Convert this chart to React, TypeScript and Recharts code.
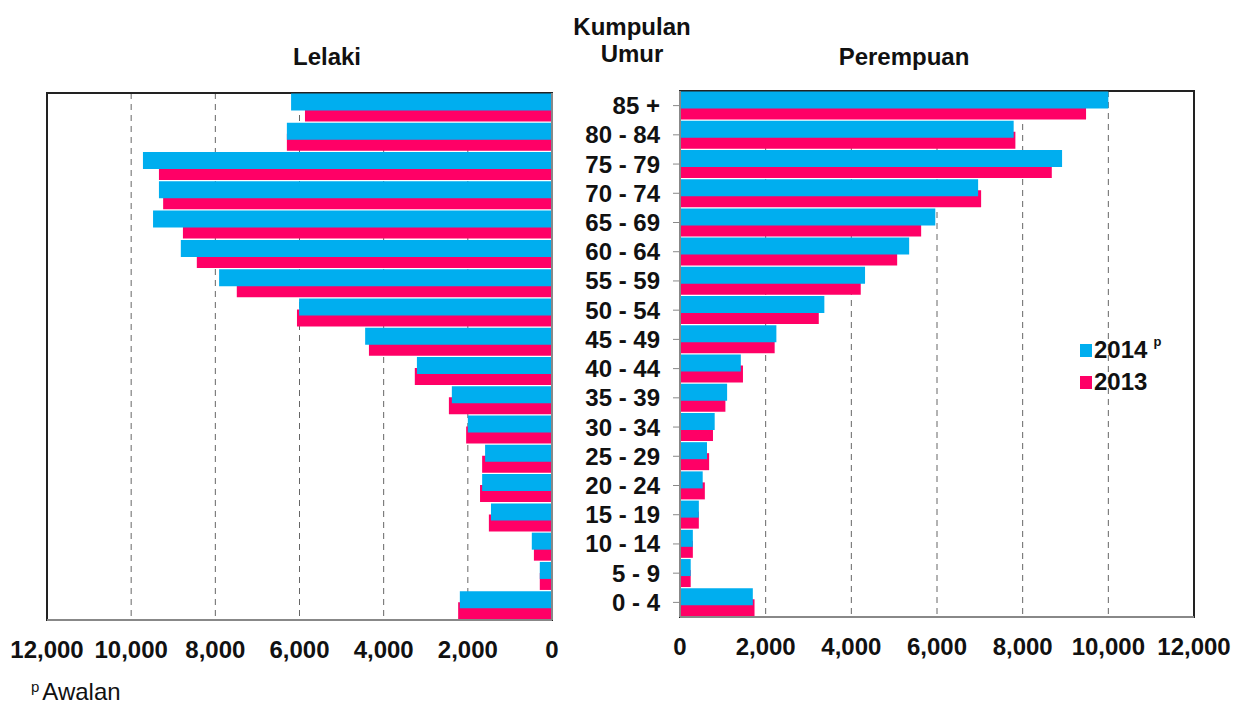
import React from 'react';
import { Bar, BarChart, CartesianGrid, Legend, Rectangle, ReferenceArea, ReferenceLine, XAxis, YAxis } from 'recharts';

const ageGroups = [
  '85 +', '80 - 84', '75 - 79', '70 - 74', '65 - 69', '60 - 64', '55 - 59', '50 - 54', '45 - 49',
  '40 - 44', '35 - 39', '30 - 34', '25 - 29', '20 - 24', '15 - 19', '10 - 14', '5 - 9', '0 - 4',
];

// Lelaki (male)
const male2014 = [6200, 6300, 9720, 9340, 9480, 8820, 7910, 6010, 4440, 3210, 2380, 2000, 1590, 1660, 1450, 480, 290, 2190];
const male2013 = [5870, 6300, 9340, 9240, 8770, 8440, 7490, 6060, 4350, 3260, 2450, 2040, 1660, 1710, 1500, 430, 290, 2230];

// Perempuan (female)
const female2014 = [10000, 7790, 8920, 6960, 5960, 5350, 4320, 3370, 2250, 1420, 1100, 810, 630, 530, 440, 300, 250, 1700];
const female2013 = [9480, 7830, 8680, 7030, 5630, 5070, 4220, 3240, 2210, 1470, 1060, 770, 680, 580, 440, 300, 250, 1740];

const xTicks = [0, 2000, 4000, 6000, 8000, 10000, 12000];

const BLUE = '#00AEEF';
const PINK = '#FF0066';
const FONT = "'Liberation Sans', Arial, sans-serif";

const legendItems = [
  { label: '2014', sup: 'p', color: BLUE },
  { label: '2013', sup: '', color: PINK },
];

const maleData = ageGroups.map((g, i) => ({ group: g, y2014: male2014[i], y2013: male2013[i] }));
const femaleData = ageGroups.map((g, i) => ({ group: g, y2014: female2014[i], y2013: female2013[i] }));

const fmt = (v: number) => v.toLocaleString('en-US');
const tickStyle = { fontFamily: FONT, fontSize: 24, fontWeight: 'bold', fill: '#111' };

// bars of one group overlap: 2014 sits higher and is painted above 2013
const shifted = (dy: number) => (props: any) => (
  <Rectangle x={props.x} y={props.y + dy} width={props.width} height={props.height} fill={props.fill} />
);

function LegendBox() {
  return (
    <div style={{ fontFamily: FONT, fontWeight: 'bold', fontSize: 24, color: '#111' }}>
      {legendItems.map((it) => (
        <div key={it.label} style={{ display: 'flex', alignItems: 'center', height: 32 }}>
          <span style={{ width: 12, height: 13, background: it.color, marginRight: 2 }} />
          <span style={{ lineHeight: '24px' }}>{it.label}</span>
          {it.sup ? (
            <span style={{ fontSize: 13, alignSelf: 'flex-start', marginLeft: 6 }}>{it.sup}</span>
          ) : null}
        </div>
      ))}
    </div>
  );
}

function Label({ text, x, y }: { text: string; x: number; y: number }) {
  return (
    <div
      style={{
        position: 'absolute', left: x - 100, top: y, width: 200, textAlign: 'center',
        fontFamily: FONT, fontSize: 24, fontWeight: 'bold', lineHeight: '24px', color: '#111',
      }}
    >
      {text}
    </div>
  );
}

export default function App() {
  return (
    <div style={{ position: 'absolute', left: 0, top: 0, width: 1240, height: 706, background: '#fff', overflow: 'hidden' }}>
      <Label text="Kumpulan" x={632} y={15} />
      <Label text="Umur" x={632} y={42} />
      <Label text="Lelaki" x={327} y={45} />
      <Label text="Perempuan" x={904} y={45} />

      <div style={{ position: 'absolute', left: 0, top: 0 }}>
        <BarChart
          width={600}
          height={706}
          data={maleData}
          layout="vertical"
          margin={{ top: 93, right: 38, bottom: 46, left: 47 }}
          barSize={17}
          barGap={-17}
        >
          <CartesianGrid horizontal={false} stroke="#666" strokeDasharray="6 5" />
          <XAxis
            type="number"
            domain={[0, 12000]}
            ticks={xTicks}
            interval={0}
            reversed
            tickFormatter={fmt}
            tick={tickStyle}
            tickLine={false}
            tickMargin={15}
            height={40}
            axisLine={{ stroke: '#888', strokeWidth: 2 }}
          />
          <YAxis
            type="category"
            dataKey="group"
            orientation="right"
            width={10}
            tick={false}
            tickSize={7}
            tickLine={{ stroke: '#888' }}
            axisLine={{ stroke: '#888', strokeWidth: 2 }}
            interval={0}
          />
          <Bar dataKey="y2013" fill={PINK} shape={shifted(5.5)} isAnimationActive={false} />
          <Bar dataKey="y2014" fill={BLUE} shape={shifted(-5.5)} isAnimationActive={false} />
          <ReferenceArea x1={0} x2={12000} fill="none" stroke="#222" strokeWidth={2} ifOverflow="visible" />
          <ReferenceLine x={0} stroke="#888" strokeWidth={2} ifOverflow="visible" />
        </BarChart>
      </div>

      <div style={{ position: 'absolute', left: 560, top: 0 }}>
        <BarChart
          width={680}
          height={706}
          data={femaleData}
          layout="vertical"
          margin={{ top: 91, right: 46, bottom: 49, left: 0 }}
          barSize={17}
          barGap={-17}
        >
          <CartesianGrid horizontal={false} stroke="#666" strokeDasharray="6 5" />
          <XAxis
            type="number"
            domain={[0, 12000]}
            ticks={xTicks}
            interval={0}
            tickFormatter={fmt}
            tick={tickStyle}
            tickLine={false}
            tickMargin={15}
            height={40}
            axisLine={{ stroke: '#888', strokeWidth: 2 }}
          />
          <YAxis
            type="category"
            dataKey="group"
            width={120}
            tick={tickStyle}
            tickSize={7}
            tickMargin={13}
            tickLine={{ stroke: '#888' }}
            axisLine={{ stroke: '#888', strokeWidth: 2 }}
            interval={0}
          />
          <Bar dataKey="y2013" fill={PINK} shape={shifted(5.5)} isAnimationActive={false} />
          <Bar dataKey="y2014" fill={BLUE} shape={shifted(-5.5)} isAnimationActive={false} />
          <ReferenceArea x1={0} x2={12000} fill="none" stroke="#222" strokeWidth={2} ifOverflow="visible" />
          <ReferenceLine x={0} stroke="#888" strokeWidth={2} ifOverflow="visible" />
          <Legend
            layout="vertical"
            align="center"
            verticalAlign="middle"
            wrapperStyle={{ left: 520, top: 334, width: 120, height: 70 }}
            content={() => <LegendBox />}
          />
        </BarChart>
      </div>

      <div style={{ position: 'absolute', left: 31, top: 680, fontFamily: FONT, fontSize: 24, lineHeight: '24px', color: '#111' }}>
        <span style={{ fontSize: 15, position: 'relative', top: -8, marginRight: 3 }}>p</span>
        Awalan
      </div>
    </div>
  );
}
